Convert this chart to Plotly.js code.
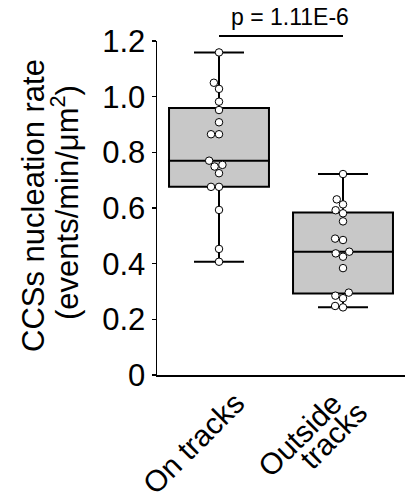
<!DOCTYPE html>
<html>
<head>
<meta charset="utf-8">
<script src="https://cdn.plot.ly/plotly-3.0.1.min.js"></script>
<style>html,body{margin:0;padding:0;background:#fff;}#chart{width:406px;height:499px;}</style>
</head>
<body>
<div id="chart"></div>
<script>
// ---- data ----
const categories = ["On tracks", "Outside tracks"];
const onTracks = [0.407, 0.453, 0.593, 0.676, 0.676, 0.725, 0.749, 0.755, 0.770,
                  0.865, 0.865, 0.908, 0.952, 0.982, 1.028, 1.050, 1.159];
const outsideTracks = [0.243, 0.248, 0.276, 0.285, 0.296, 0.384, 0.425, 0.437, 0.443,
                       0.485, 0.490, 0.552, 0.581, 0.592, 0.613, 0.631, 0.722];
const yTickVals = [0, 0.2, 0.4, 0.6, 0.8, 1.0, 1.2];
const yTickText = ["0", "0.2", "0.4", "0.6", "0.8", "1.0", "1.2"];
const pText = "p = 1.11E-6";
const yTitleLines = ["CCSs nucleation rate", "(events/min/μm<sup>2</sup>)"];

// ---- layout geometry ----
const W = 406, H = 499;
const M = {l: 157, r: 1, t: 41, b: 124};
const yRange = [0, 1.2], xRange = [-0.5, 1.5];
const plotW = W - M.l - M.r, plotH = H - M.t - M.b;
const pxPerY = plotH / (yRange[1] - yRange[0]);
const pxPerX = plotW / (xRange[1] - xRange[0]);
const FONT = "Liberation Sans, Arial, Helvetica, sans-serif";
const markerD = 8;
const px2paperX = px => (px - M.l) / plotW;
const px2paperY = py => (H - M.b - py) / plotH;

// simple beeswarm: offsets (px) so markers don't overlap
function swarm(vals) {
  const order = vals.map((v, i) => i).sort((a, b) => vals[a] - vals[b]);
  const placed = [], off = new Array(vals.length).fill(0);
  const d2 = markerD * markerD;
  order.forEach(i => {
    const y = vals[i] * pxPerY;
    const cands = [0];
    placed.forEach(p => {
      const dy = y - p.y;
      if (Math.abs(dy) < markerD) {
        const dx = Math.sqrt(d2 - dy * dy);
        cands.push(p.x + dx, p.x - dx);
      }
    });
    cands.sort((a, b) => (Math.abs(a) - Math.abs(b)) || (a - b));
    for (const c of cands) {
      if (placed.every(p => (p.x - c) ** 2 + (p.y - y) ** 2 >= d2 - 1e-6)) {
        off[i] = c; placed.push({x: c, y: y}); break;
      }
    }
  });
  return off;
}

const groups = [onTracks, outsideTracks];
const traces = [];
groups.forEach((g, k) => {
  traces.push({
    type: "box", y: g, x0: k, width: 0.806, name: categories[k],
    boxpoints: false, quartilemethod: "linear", whiskerwidth: 0.5,
    fillcolor: "#c8c8c8", line: {color: "#000", width: 2},
    hoverinfo: "skip", showlegend: false
  });
});
groups.forEach((g, k) => {
  const off = swarm(g);
  traces.push({
    type: "scatter", mode: "markers",
    x: off.map(o => k + o / pxPerX), y: g,
    marker: {size: 7.5, color: "#fff", line: {color: "#000", width: 1}},
    cliponaxis: false, hoverinfo: "skip", showlegend: false
  });
});

// category label pieces (split into the lines shown) and their centre positions (px)
const catLabelPieces = [
  {text: "On tracks", cx: 193, cy: 443},
  {text: "Outside", cx: 299, cy: 435},
  {text: "tracks", cx: 333, cy: 435}
];

const annotations = [
  {text: pText, xref: "x", yref: "paper", x: (290 - 219) / pxPerX, y: px2paperY(17),
   xanchor: "center", yanchor: "middle", showarrow: false,
   font: {size: 23, family: FONT, color: "#000"}},
  {text: yTitleLines[0], xref: "paper", yref: "paper", x: px2paperX(34), y: px2paperY(206),
   xanchor: "center", yanchor: "middle", textangle: -90, showarrow: false,
   font: {size: 31, family: FONT, color: "#000"}},
  {text: yTitleLines[1], xref: "paper", yref: "paper", x: px2paperX(65), y: px2paperY(203),
   xanchor: "center", yanchor: "middle", textangle: -90, showarrow: false,
   font: {size: 31, family: FONT, color: "#000"}}
];
catLabelPieces.forEach(p => annotations.push({
  text: p.text, xref: "paper", yref: "paper", x: px2paperX(p.cx), y: px2paperY(p.cy),
  xanchor: "center", yanchor: "middle", textangle: -45, showarrow: false,
  font: {size: 30, family: FONT, color: "#000"}
}));

const layout = {
  width: W, height: H,
  margin: M,
  paper_bgcolor: "#fff", plot_bgcolor: "#fff",
  font: {family: FONT, color: "#000"},
  showlegend: false,
  xaxis: {
    range: xRange, showgrid: false, zeroline: false,
    showline: true, linecolor: "#000", linewidth: 1.5,
    ticks: "", tickvals: [0, 1], showticklabels: false
  },
  yaxis: {
    range: yRange, showgrid: false, zeroline: false,
    showline: true, linecolor: "#000", linewidth: 1.5,
    ticks: "outside", ticklen: 4, tickwidth: 1.5, tickcolor: "#000",
    tickvals: yTickVals, ticktext: yTickText,
    tickfont: {size: 31, family: FONT, color: "#000"}
  },
  shapes: [{
    type: "line", xref: "x", yref: "paper",
    x0: 0, x1: 1, y0: px2paperY(36), y1: px2paperY(36),
    line: {color: "#000", width: 2}
  }],
  annotations: annotations
};

Plotly.newPlot("chart", traces, layout, {displayModeBar: false, staticPlot: true});
</script>
</body>
</html>
